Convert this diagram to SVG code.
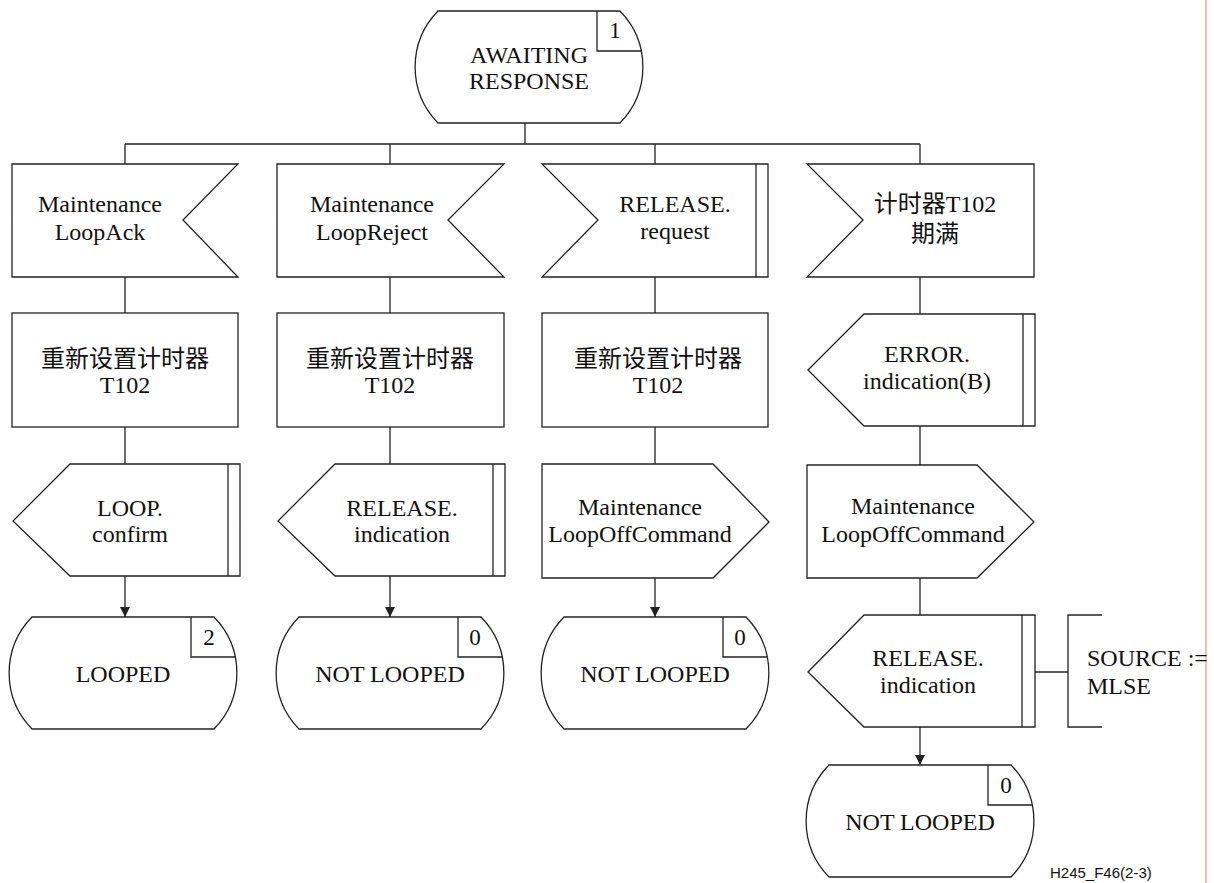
<svg xmlns="http://www.w3.org/2000/svg" width="1214" height="883" viewBox="0 0 1214 883">
<style>
.s{fill:#fff;stroke:#222;stroke-width:1.3}
.l{fill:none;stroke:#222;stroke-width:1.3}
.t{font-family:"Liberation Serif","Noto Sans CJK SC",serif;font-size:24px;fill:#111;text-anchor:middle}
.n{font-family:"Liberation Serif",serif;font-size:23px;fill:#111;text-anchor:middle}
.c{font-family:"Liberation Serif","Noto Sans CJK SC",serif;font-size:24px;fill:#111}
</style>
<defs>
<marker id="ah" markerWidth="10" markerHeight="10" refX="10" refY="5" orient="auto" markerUnits="userSpaceOnUse">
<path d="M0,0 L10,5 L0,10 z" fill="#222"/>
</marker>
</defs>
<rect width="1214" height="883" fill="#fff"/>
<line x1="1206" y1="0" x2="1206" y2="883" stroke="#f5a3aa" stroke-width="1.5"/>

<g id="connectors">
<path class="l" d="M525,123 V144 M125,144 H920 M125,144 V164 M390,144 V164 M655,144 V164 M920,144 V164"/>
<path class="l" d="M125,277 V313 M390,277 V313 M655,277 V313 M920,277 V314"/>
<path class="l" d="M125,427 V464 M390,427 V464 M655,427 V464 M920,426 V465 M920,578 V615"/>
<line class="l" x1="125" y1="576" x2="125" y2="617" marker-end="url(#ah)"/>
<line class="l" x1="390" y1="576" x2="390" y2="617" marker-end="url(#ah)"/>
<line class="l" x1="655" y1="578" x2="655" y2="617" marker-end="url(#ah)"/>
<line class="l" x1="920" y1="727" x2="920" y2="765" marker-end="url(#ah)"/>
<line class="l" x1="1035" y1="672" x2="1068" y2="672"/>
</g>

<g id="state_awaiting">
<path class="s" d="M438,11 H620 A80,80 0 0 1 620,123 H438 A80,80 0 0 1 438,11 Z"/>
<path class="l" d="M597,11 V51 H641"/>
<text class="n" x="615" y="38">1</text>
<text class="t" x="529" y="63">AWAITING</text>
<text class="t" x="529" y="89">RESPONSE</text>
</g>

<g id="in_loopack">
<path class="s" d="M12,164 H238 L183,220 L238,277 H12 Z"/>
<text class="t" x="100" y="212">Maintenance</text>
<text class="t" x="100" y="240">LoopAck</text>
</g>
<g id="in_loopreject">
<path class="s" d="M277,164 H504 L448,220 L504,277 H277 Z"/>
<text class="t" x="372" y="212">Maintenance</text>
<text class="t" x="372" y="240">LoopReject</text>
</g>
<g id="in_release_request">
<path class="s" d="M542,164 H768 V277 H542 L598,220 Z"/>
<line class="l" x1="756" y1="164" x2="756" y2="277"/>
<text class="t" x="675" y="212">RELEASE.</text>
<text class="t" x="675" y="239">request</text>
</g>
<g id="in_timer">
<path class="s" d="M807,164 H1034 V277 H807 L863,220 Z"/>
<text class="t" x="935" y="212">计时器T102</text>
<text class="t" x="935" y="242">期满</text>
</g>

<g id="task1">
<rect class="s" x="12" y="313" width="226" height="114"/>
<text class="t" x="125" y="367">重新设置计时器</text>
<text class="t" x="125" y="393">T102</text>
</g>
<g id="task2">
<rect class="s" x="277" y="313" width="227" height="114"/>
<text class="t" x="390" y="367">重新设置计时器</text>
<text class="t" x="390" y="393">T102</text>
</g>
<g id="task3">
<rect class="s" x="542" y="313" width="226" height="114"/>
<text class="t" x="658" y="367">重新设置计时器</text>
<text class="t" x="658" y="393">T102</text>
</g>
<g id="out_error">
<path class="s" d="M864,314 H1035 V426 H864 L808,370 Z"/>
<line class="l" x1="1023" y1="314" x2="1023" y2="426"/>
<text class="t" x="927" y="362">ERROR.</text>
<text class="t" x="927" y="389">indication(B)</text>
</g>

<g id="out_loop_confirm">
<path class="s" d="M70,464 H240 V576 H70 L13,521 Z"/>
<line class="l" x1="228" y1="464" x2="228" y2="576"/>
<text class="t" x="130" y="516">LOOP.</text>
<text class="t" x="130" y="542">confirm</text>
</g>
<g id="out_release_ind1">
<path class="s" d="M335,464 H505 V576 H335 L278,521 Z"/>
<line class="l" x1="493" y1="464" x2="493" y2="576"/>
<text class="t" x="402" y="516">RELEASE.</text>
<text class="t" x="402" y="542">indication</text>
</g>
<g id="out_loopoff1">
<path class="s" d="M542,464 H713 L769,522 L713,578 H542 Z"/>
<text class="t" x="640" y="515">Maintenance</text>
<text class="t" x="640" y="542">LoopOffCommand</text>
</g>
<g id="out_loopoff2">
<path class="s" d="M807,465 H977 L1034,522 L977,578 H807 Z"/>
<text class="t" x="913" y="514">Maintenance</text>
<text class="t" x="913" y="542">LoopOffCommand</text>
</g>
<g id="out_release_ind2">
<path class="s" d="M864,615 H1035 V727 H864 L808,672 Z"/>
<line class="l" x1="1022" y1="615" x2="1022" y2="727"/>
<text class="t" x="928" y="666">RELEASE.</text>
<text class="t" x="928" y="693">indication</text>
</g>
<g id="comment_source">
<path class="l" d="M1102,615 H1068 V727 H1102"/>
<text class="c" x="1087" y="666">SOURCE :=</text>
<text class="c" x="1087" y="694">MLSE</text>
</g>

<g id="state_looped">
<path class="s" d="M32,617 H214 A80,80 0 0 1 214,729 H32 A80,80 0 0 1 32,617 Z"/>
<path class="l" d="M191,617 V657 H235"/>
<text class="n" x="209" y="645">2</text>
<text class="t" x="123" y="682">LOOPED</text>
</g>
<g id="state_notlooped1">
<path class="s" d="M299,617 H481 A80,80 0 0 1 481,729 H299 A80,80 0 0 1 299,617 Z"/>
<path class="l" d="M458,617 V657 H502"/>
<text class="n" x="475" y="645">0</text>
<text class="t" x="390" y="682">NOT LOOPED</text>
</g>
<g id="state_notlooped2">
<path class="s" d="M564,617 H746 A80,80 0 0 1 746,729 H564 A80,80 0 0 1 564,617 Z"/>
<path class="l" d="M723,617 V657 H767"/>
<text class="n" x="740" y="645">0</text>
<text class="t" x="655" y="682">NOT LOOPED</text>
</g>
<g id="state_notlooped3">
<path class="s" d="M829,765 H1011 A80,80 0 0 1 1011,877 H829 A80,80 0 0 1 829,765 Z"/>
<path class="l" d="M988,765 V805 H1032"/>
<text class="n" x="1006" y="793">0</text>
<text class="t" x="920" y="830">NOT LOOPED</text>
</g>

<text x="1050" y="878" style="font-family:'Liberation Sans',sans-serif;font-size:15px;fill:#111">H245_F46(2-3)</text>
</svg>
